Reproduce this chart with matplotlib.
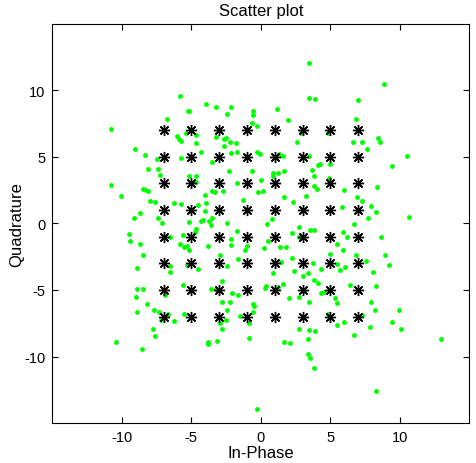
import numpy as np
import matplotlib
matplotlib.use('Agg')
import matplotlib.pyplot as plt

plt.rcParams['font.family'] = ['Liberation Sans', 'DejaVu Sans']
plt.rcParams['axes.unicode_minus'] = False

# received symbols (noisy)
rx_i = [-5.81, -5.23, -6.74, -10.81, -6.02, -5.90, -5.73, -5.40, -9.04, -8.32, -7.48, -5.71,
        3.48, 3.48, 3.93, -5.18, -3.98, -3.24, -2.13, -2.42, -0.55, -0.55, 1.17, 1.92, -0.67, -0.29,
        -4.70, -3.24, -2.66, -2.54, -2.23, -1.77, -2.68, -4.70, -4.27, -2.13, -1.75, -0.31, -0.09,
        2.57, 2.86, 4.84, 1.29, 1.56, 3.48, -3.53, 4.24, 4.96,
        8.83, 7.00, 6.81, 8.44, 8.54, 6.62, 7.27, 7.65, 10.48, 9.45,
        -8.13, -7.41, -7.22, -10.81, -10.07, -8.49, -8.29, -8.11, -8.01, -7.65, -6.28, -5.73,
        -8.68, -9.12, -7.39, -7.10, -5.18, -9.50, -9.40, -8.68, -8.49, -6.57, -5.63, -5.81, -5.54,
        -5.32, -5.16, -6.57, -6.57, -8.94, -5.32, -5.63, -8.94, -8.49, -8.97, -6.91, -8.18,
        -5.18, -4.68, -4.63, -2.30, -0.65, -1.68, 0.89, 0.89, 1.27, 1.65, 0.00, 3.69, 3.84, 4.12,
        3.84, 4.05, 4.89, -3.55, -3.33, -2.71, -4.05, -0.19, 0.19, -1.29, 1.63, 3.24, 2.28,
        -4.53, -3.96, -4.05, -4.34, -4.15, -3.76, -3.50, -3.60, -2.42, 0.81, 0.43, 2.76, 3.57, 3.84,
        2.21, -4.63, -4.75, -1.71, -2.16, -2.13, -3.79, -0.99, -1.15, 0.22, 0.55, 1.39, 1.78, 2.76,
        5.01, -2.95, -4.51, -2.42, -1.61, 0.89, 1.46, 2.25, 2.42, 3.02, 3.40, 3.74, 4.32, 3.81, 4.12,
        -2.83, -3.62, -3.24, 0.29, 0.38, 1.20, 1.56, -2.04, -1.63, -2.78, -2.23, 1.99, 2.73, 3.12,
        4.32, 4.53, 3.45, -0.53,
        5.97, 8.37, 6.93, 7.27, 5.81, 7.91, 8.27, 7.72, 10.67, 6.69, 5.88, 6.17, 8.63, 5.49, 5.88,
        6.81, 8.94, 7.53, 9.21, 5.45, 5.68, 6.07, 8.08, 6.42, 8.27, 5.32, 5.45, 7.91,
        -8.94, -7.67, -7.31, -7.19, -6.71, -6.28, -5.54, -7.77, -7.58, -10.43, -8.58,
        -2.42, -0.48, -0.58, -1.51, -2.54, -2.95, -2.78, -0.86, -0.84, -3.79, -3.79, -3.14,
        1.68, 2.11, 2.73, 3.48, 3.93, 3.38, 3.38, 3.57, 3.86, -0.29, 4.80,
        8.18, 9.93, 7.29, 5.95, 5.49, 9.45, 7.82, 10.09, 6.71, 12.97, 8.27]
rx_q = [9.60, 8.42, 7.87, 7.05, 6.57, 6.37, 6.20, 6.82, 5.57, 5.10, 4.80, 4.92,
        12.02, 9.42, 9.32, 8.42, 8.97, 8.77, 8.77, 8.22, 8.40, 8.12, 8.60, 7.77, 7.50, 7.30,
        6.62, 6.47, 6.30, 6.40, 6.10, 6.02, 5.82, 6.00, 5.37, 5.27, 5.37, 5.37, 5.20,
        6.10, 6.82, 6.82, 5.17, 5.02, 5.02, 4.62, 4.47, 4.47,
        10.44, 9.25, 7.87, 6.40, 6.12, 6.12, 6.12, 5.57, 5.02, 4.30,
        4.07, 4.07, 3.62, 2.90, 2.08, 2.57, 2.50, 2.42, 1.67, 1.60, 1.52, 1.42,
        0.77, 0.40, 0.40, 0.05, 0.12, -0.80, -1.33, -1.55, -2.37, -1.00, -0.90, -1.52, -1.80,
        -1.67, -1.97, -3.22, -3.65, -3.37, -3.15, -4.60, -4.92, -4.92, -5.50, -5.40, -6.02,
        3.57, 3.57, 3.07, 3.90, 3.90, 3.00, 3.80, 3.55, 3.80, 3.90, 3.25, 3.97, 3.55, 4.37,
        2.80, 2.60, 3.42, 2.42, 2.35, 2.42, 2.15, 2.37, 2.42, 1.75, 1.97, 2.07, 1.60,
        1.35, 1.52, 0.95, 0.15, 0.22, 0.15, 0.40, -0.15, 0.05, 0.30, -0.07, -0.25, -0.52, -0.52,
        -0.70, -0.40, -0.62, -0.57, -1.15, -1.62, -1.72, -1.70, -1.97, -1.82, -1.33, -1.80, -1.75, -1.05,
        -2.27, -2.37, -3.45, -3.20, -2.70, -3.72, -2.87, -2.62, -3.60, -3.92, -3.70, -2.95, -3.45, -4.25, -4.45,
        -4.32, -4.92, -4.92, -4.87, -4.70, -4.75, -4.55, -5.22, -5.37, -5.87, -5.87, -5.57, -5.52, -5.10,
        -5.20, -5.12, -5.87, -6.05,
        2.50, 2.70, 1.95, 1.67, 1.22, 1.32, 0.85, 0.37, 0.47, -0.07, -0.62, -1.00, -1.00, -1.55, -2.00,
        -2.37, -2.37, -2.85, -3.12, -3.02, -3.47, -3.30, -3.67, -4.60, -4.67, -5.57, -5.95, -5.87,
        -6.62, -6.52, -6.62, -7.25, -6.80, -7.37, -6.80, -7.90, -8.45, -8.90, -9.47,
        -6.52, -6.22, -6.62, -6.97, -7.25, -7.50, -7.90, -7.52, -8.62, -8.90, -9.07, -8.82,
        -8.94, -8.97, -7.90, -8.00, -8.10, -8.72, -9.82, -10.12, -10.85, -13.97, -6.80,
        -6.50, -6.50, -6.87, -7.42, -7.62, -7.42, -7.80, -7.90, -8.42, -8.72, -12.57]

# ideal 64-QAM constellation levels
levels = [-7, -5, -3, -1, 1, 3, 5, 7]
const_i, const_q = np.meshgrid(levels, levels)

fig = plt.figure(figsize=(4.76, 4.64), dpi=100)
ax = fig.add_axes([0.110, 0.086, 0.876, 0.861])

ax.plot(rx_i, rx_q, '.', color='#00ff00', markersize=5, linestyle='none')
ax.plot(const_i.ravel(), const_q.ravel(), linestyle='none', marker=(8, 2, 0),
        color='k', markersize=8, markeredgewidth=1.0)

ax.set_xlim(-15, 15)
ax.set_ylim(-15, 15)
ax.set_xticks([-10, -5, 0, 5, 10])
ax.set_yticks([-10, -5, 0, 5, 10])
ax.tick_params(direction='in', top=True, right=True, labelsize=10.5, length=4, pad=5)
ax.set_title('Scatter plot', fontsize=12, pad=6)
ax.set_xlabel('In-Phase', fontsize=12, labelpad=1)
ax.set_ylabel('Quadrature', fontsize=12, labelpad=0)

fig.savefig('out.png', dpi=100)
